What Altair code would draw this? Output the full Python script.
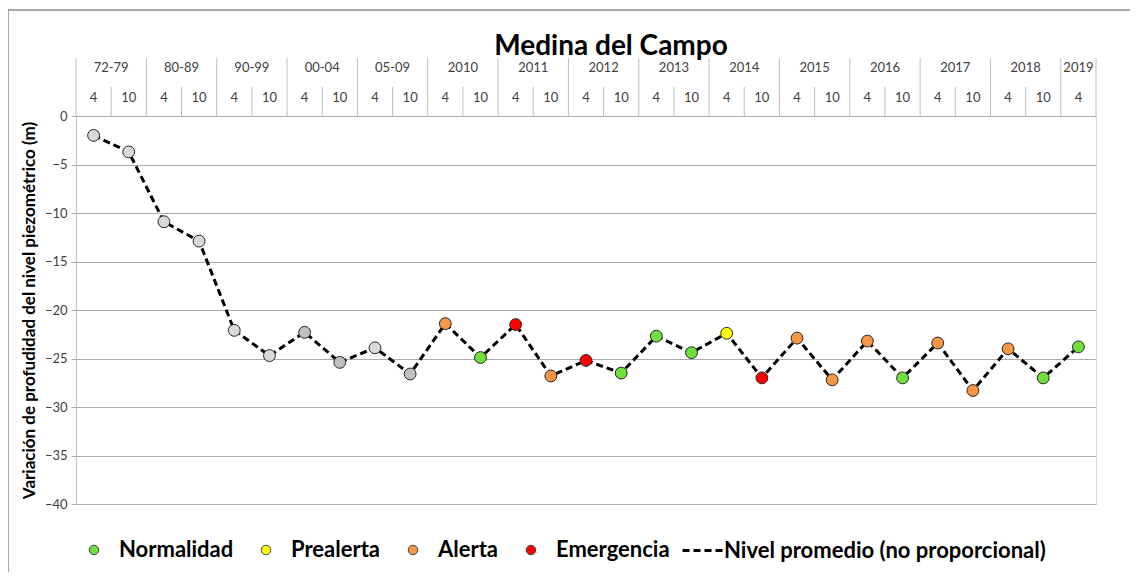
import altair as alt
import pandas as pd

# ---------------- data ----------------
periodos = ["72-79", "80-89", "90-99", "00-04", "05-09", "2010", "2011", "2012",
            "2013", "2014", "2015", "2016", "2017", "2018", "2019"]
meses_por_periodo = [["4", "10"]] * 14 + [["4"]]

valores = [-2.0, -3.7, -10.9, -12.9, -22.1, -24.7, -22.3, -25.4, -23.9, -26.6,
           -21.4, -24.9, -21.5, -26.8, -25.2, -26.5, -22.7, -24.4, -22.4, -27.0,
           -22.9, -27.2, -23.2, -27.0, -23.4, -28.3, -24.0, -27.0, -23.8]

estados = ["Histórico claro"] * 6 + ["Histórico oscuro", "Histórico oscuro",
           "Histórico claro", "Histórico oscuro",
           "Alerta", "Normalidad", "Emergencia", "Alerta", "Emergencia", "Normalidad",
           "Normalidad", "Normalidad", "Prealerta", "Emergencia", "Alerta", "Alerta",
           "Alerta", "Normalidad", "Alerta", "Alerta", "Alerta", "Normalidad", "Normalidad"]

estado_dominio = ["Normalidad", "Prealerta", "Alerta", "Emergencia",
                  "Histórico claro", "Histórico oscuro"]
estado_colores = ["#70E03C", "#FFFF00", "#F79646", "#FF0000", "#D9D9D9", "#BFBFBF"]

serie_linea = "Nivel promedio (no proporcional)"
titulo = "Medina del Campo"
titulo_y = "Variación de profudidad del nivel piezométrico (m)"

# ---------------- tables ----------------
rows, periodo_rows, sep_full, sep_half = [], [], [], []
idx = 0
for p, ms in zip(periodos, meses_por_periodo):
    start = idx
    sep_full.append(start - 0.5)
    for k, m in enumerate(ms):
        rows.append({"idx": idx, "periodo": p, "mes": m})
        if k < len(ms) - 1:
            sep_half.append(idx + 0.5)
        idx += 1
    periodo_rows.append({"centro": (start + idx - 1) / 2, "periodo": p})
sep_full.append(idx - 0.5)

df = pd.DataFrame(rows)
df["valor"] = valores
df["estado"] = estados
df["serie"] = serie_linea

df_per = pd.DataFrame(periodo_rows)
df_full = pd.DataFrame({"pos": sep_full})
df_half = pd.DataFrame({"pos": sep_half})

FONT = "Lato"
W, H = 1020, 388
LEG_FS = 22

xs = alt.Scale(domain=[-0.5, len(valores) - 0.5], nice=False, zero=False)
ys = alt.Scale(domain=[-40, 0], nice=False, zero=False)

Y = alt.Y("valor:Q", scale=ys,
          axis=alt.Axis(values=list(range(-40, 1, 5)), title=titulo_y,
                        grid=True, gridColor="#ABABAB", gridWidth=1,
                        tickColor="#ABABAB", tickSize=5, domainColor="#BFBFBF",
                        labelFont=FONT, labelFontSize=13, labelColor="#404040",
                        labelPadding=4,
                        titleFont=FONT, titleFontSize=17, titleFontWeight="bold",
                        titleColor="black", titlePadding=6))

line = alt.Chart(df).mark_line(color="black", strokeWidth=3).encode(
    x=alt.X("idx:Q", scale=xs, axis=None),
    y=Y,
    strokeDash=alt.StrokeDash(
        "serie:N",
        scale=alt.Scale(domain=[serie_linea], range=[[7, 4]]),
        legend=alt.Legend(title=None, orient="none", legendX=605, legendY=413,
                          symbolType="stroke", symbolSize=1600, symbolStrokeWidth=3,
                          symbolStrokeColor="black", labelOffset=0, labelLimit=0,
                          labelFont=FONT, labelFontSize=LEG_FS, labelFontWeight="bold",
                          labelColor="black", padding=0)),
)

points = alt.Chart(df).mark_circle(size=140, opacity=1, stroke="#262626",
                                   strokeWidth=1).encode(
    x=alt.X("idx:Q", scale=xs, axis=None),
    y=alt.Y("valor:Q", scale=ys),
    fill=alt.Fill(
        "estado:N",
        scale=alt.Scale(domain=estado_dominio, range=estado_colores),
        legend=alt.Legend(title=None, orient="none", direction="horizontal",
                          legendX=7, legendY=423,
                          values=estado_dominio[:4], symbolType="circle",
                          symbolSize=90, symbolStrokeColor="#404040",
                          symbolStrokeWidth=1, labelOffset=14, columnPadding=21,
                          labelLimit=0,
                          labelFont=FONT, labelFontSize=LEG_FS, labelFontWeight="bold",
                          labelColor="black", padding=0)),
)

sep_f = alt.Chart(df_full).mark_rule(color="#BFBFBF", strokeWidth=1).encode(
    x=alt.X("pos:Q", scale=xs, axis=None),
    y=alt.value(-58), y2=alt.value(0))

sep_h = alt.Chart(df_half).mark_rule(color="#BFBFBF", strokeWidth=1).encode(
    x=alt.X("pos:Q", scale=xs, axis=None),
    y=alt.value(-29), y2=alt.value(0))

mes_txt = alt.Chart(df).mark_text(font=FONT, fontSize=13, color="#404040").encode(
    x=alt.X("idx:Q", scale=xs, axis=None),
    y=alt.value(-18), text="mes:N")

per_txt = alt.Chart(df_per).mark_text(font=FONT, fontSize=13, color="#404040").encode(
    x=alt.X("centro:Q", scale=xs, axis=None),
    y=alt.value(-48), text="periodo:N")

title_df = pd.DataFrame({"t": [titulo]})
title_txt = alt.Chart(title_df).mark_text(font=FONT, fontSize=28, fontWeight="bold",
                                          color="black", baseline="alphabetic").encode(
    x=alt.value(535), y=alt.value(-61), text="t:N")

border = alt.Chart(title_df).mark_rect(fillOpacity=0, stroke="#8C8C8C",
                                       strokeWidth=1.5).encode(
    x=alt.value(-68), y=alt.value(-106), x2=alt.value(1300), y2=alt.value(700))

chart = alt.layer(border, sep_f, sep_h, line, points, mes_txt, per_txt, title_txt).properties(
    width=W, height=H,
    autosize=alt.AutoSizeParams(type="none"),
    padding={"left": 68, "top": 108, "right": 34, "bottom": 68},
).configure_view(stroke=None).configure(background="white")

chart.save("out.html", embed_options={"renderer": "svg", "actions": False})
